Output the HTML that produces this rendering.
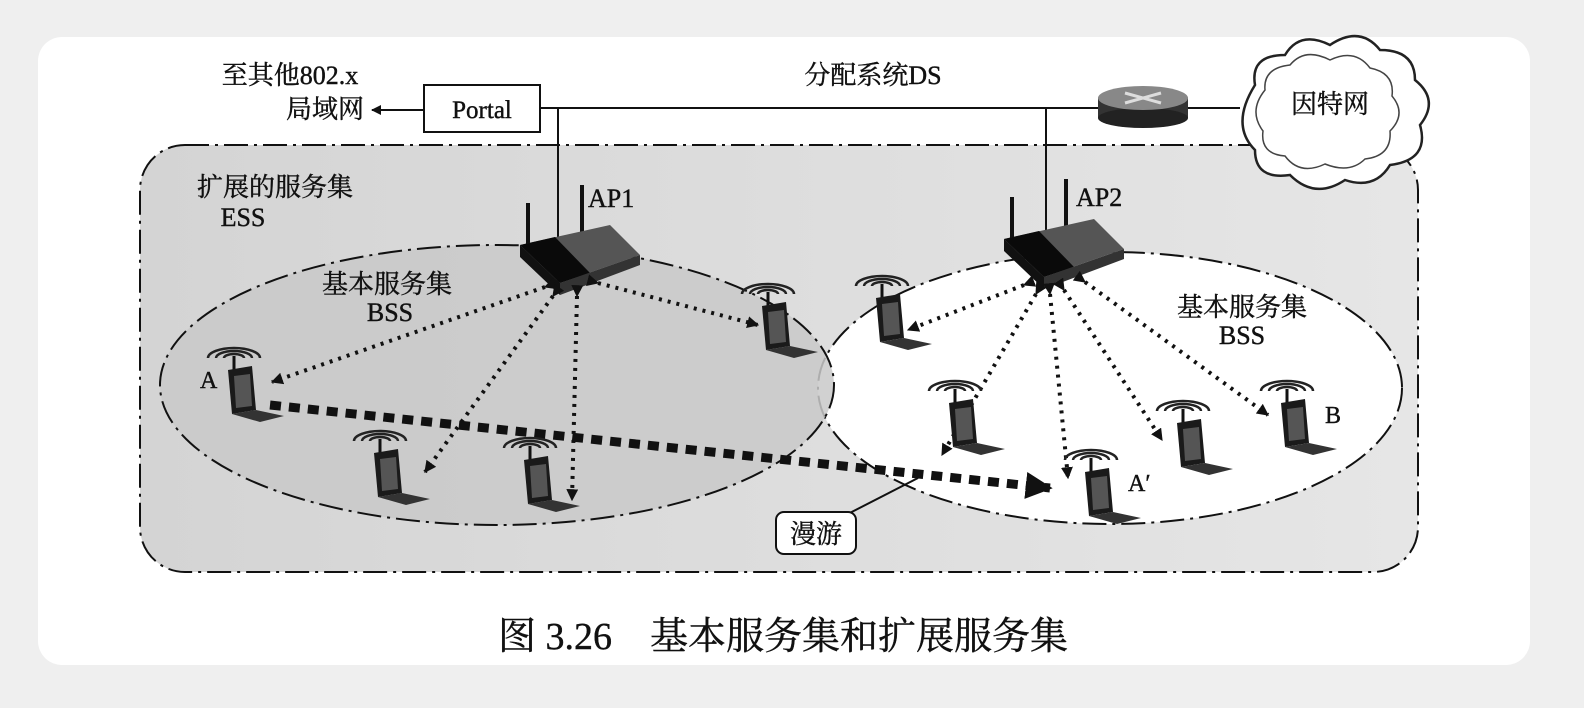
<!DOCTYPE html>
<html><head><meta charset="utf-8"><style>
html,body{margin:0;padding:0;background:#efefef;}
svg{display:block}
text{font-family:"Liberation Serif","Noto Serif CJK SC",serif;fill:#111;stroke:#111;stroke-width:0.4}
</style></head><body>
<svg width="1584" height="708" viewBox="0 0 1584 708" xmlns="http://www.w3.org/2000/svg">
<defs>
<linearGradient id="ess" x1="0" x2="1" y1="0" y2="0"><stop offset="0" stop-color="#d4d4d4"/><stop offset="1" stop-color="#e6e6e6"/></linearGradient>
<marker id="ah" viewBox="0 0 10 10" refX="9" refY="5" markerWidth="5" markerHeight="5" orient="auto-start-reverse"><path d="M0,0L10,5L0,10z" fill="#111"/></marker>
<marker id="ah2" viewBox="0 0 10 10" refX="9" refY="5" markerWidth="3" markerHeight="3" orient="auto"><path d="M0,0L10,5L0,10z" fill="#111"/></marker>
<g id="lap">
<path d="M-26,-14 a26,10 0 0 1 52,0" fill="none" stroke="#222" stroke-width="2.5"/>
<path d="M-18,-14 a18,7 0 0 1 36,0" fill="none" stroke="#222" stroke-width="2.5"/>
<path d="M-10,-14 a10,4 0 0 1 20,0" fill="none" stroke="#222" stroke-width="2.5"/>
<line x1="0" y1="-16" x2="0" y2="8" stroke="#111" stroke-width="3"/>
<path d="M-6,-2 L18,-6 L22,38 L-2,42 z" fill="#1a1a1a"/>
<path d="M0,4 L16,2 L18,34 L2,36 z" fill="#555"/>
<path d="M-2,42 L22,38 L50,44 L26,50 z" fill="#333"/>
</g>
<g id="ap">
<line x1="8" y1="-40" x2="8" y2="5" stroke="#111" stroke-width="4"/>
<line x1="62" y1="-58" x2="62" y2="-10" stroke="#111" stroke-width="4"/>
<path d="M0,2 L90,-18 L120,12 L40,40 z" fill="#555"/>
<path d="M0,2 L40,40 L40,52 L0,14 z" fill="#111"/>
<path d="M0,2 L35,-6 L70,30 L40,40 z" fill="#0a0a0a"/>
<path d="M40,40 L120,12 L120,22 L40,52 z" fill="#333"/>
</g>
</defs>
<rect x="38" y="37" width="1492" height="628" rx="24" fill="#fff"/>
<rect x="140" y="145" width="1278" height="427" rx="45" fill="url(#ess)" stroke="#111" stroke-width="2" stroke-dasharray="24,6,3,6"/>
<ellipse cx="1110" cy="388" rx="292" ry="136" fill="#fff" stroke="#111" stroke-width="2" stroke-dasharray="24,6,3,6"/>
<ellipse cx="497" cy="385" rx="337" ry="140" fill="#c9c9c9" fill-opacity="0.85" stroke="#111" stroke-width="2" stroke-dasharray="24,6,3,6"/>
<line x1="540" y1="108" x2="1240" y2="108" stroke="#111" stroke-width="2"/>
<line x1="558" y1="108" x2="558" y2="285" stroke="#111" stroke-width="2"/>
<line x1="1046" y1="108" x2="1046" y2="260" stroke="#111" stroke-width="2"/>
<rect x="424" y="85" width="116" height="47" fill="#fff" stroke="#111" stroke-width="2"/>
<text x="482" y="118" font-size="25" text-anchor="middle">Portal</text>
<line x1="424" y1="110" x2="372" y2="110" stroke="#111" stroke-width="2" marker-end="url(#ah)"/>
<text x="290" y="84" font-size="26" text-anchor="middle">至其他802.x</text>
<text x="325" y="118" font-size="26" text-anchor="middle">局域网</text>
<text x="873" y="84" font-size="26" text-anchor="middle">分配系统DS</text>
<rect x="1098" y="98" width="90" height="20" fill="#333"/>
<ellipse cx="1143" cy="118" rx="45" ry="10" fill="#222"/>
<ellipse cx="1143" cy="98" rx="45" ry="12" fill="#888"/>
<path d="M1125,93 L1161,103 M1125,103 L1161,93" stroke="#ddd" stroke-width="3"/>
<path d="M1255,85 q-5,-30 30,-30 q15,-25 45,-10 q30,-20 50,5 q35,0 35,30 q25,20 5,45 q10,35 -30,40 q-15,25 -45,15 q-30,20 -55,-5 q-35,5 -35,-25 q-25,-25 0,-65z" fill="#fff" stroke="#222" stroke-width="2.5"/>
<path d="M1265,90 q-2,-22 25,-25 q15,-18 40,-5 q25,-12 40,8 q25,5 22,28 q15,18 -2,35 q2,25 -25,28 q-15,15 -40,5 q-25,12 -40,-8 q-25,-2 -22,-25 q-15,-20 2,-41z" fill="none" stroke="#444" stroke-width="1.5"/>
<text x="1330" y="113" font-size="26" text-anchor="middle">因特网</text>
<text x="275" y="196" font-size="26" text-anchor="middle">扩展的服务集</text>
<text x="243" y="226" font-size="26" text-anchor="middle">ESS</text>
<text x="387" y="293" font-size="26" text-anchor="middle">基本服务集</text>
<text x="390" y="321" font-size="26" text-anchor="middle">BSS</text>
<text x="1242" y="316" font-size="26" text-anchor="middle">基本服务集</text>
<text x="1242" y="344" font-size="26" text-anchor="middle">BSS</text>
<text x="588" y="207" font-size="26">AP1</text>
<text x="1076" y="206" font-size="26">AP2</text>
<text x="200" y="388" font-size="24">A</text>
<text x="1128" y="491" font-size="24">A′</text>
<text x="1325" y="423" font-size="24">B</text>
<use href="#ap" x="520" y="243"/>
<use href="#ap" x="1004" y="237"/>
<g stroke="#111" stroke-width="4" stroke-dasharray="3,6" fill="none" marker-start="url(#ah2)" marker-end="url(#ah2)">
<line x1="545" y1="287" x2="272" y2="382"/>
<line x1="553" y1="296" x2="425" y2="472"/>
<line x1="577" y1="296" x2="572" y2="500"/>
<line x1="598" y1="283" x2="758" y2="325"/>
<line x1="1024" y1="285" x2="908" y2="330"/>
<line x1="1036" y1="294" x2="942" y2="455"/>
<line x1="1050" y1="294" x2="1068" y2="478"/>
<line x1="1064" y1="290" x2="1162" y2="440"/>
<line x1="1085" y1="282" x2="1268" y2="415"/>
</g>
<line x1="270" y1="405" x2="1050" y2="488" stroke="#111" stroke-width="9" stroke-dasharray="11,8" marker-end="url(#ah2)"/>
<use href="#lap" x="234" y="372"/>
<use href="#lap" x="380" y="455"/>
<use href="#lap" x="530" y="462"/>
<use href="#lap" x="768" y="308"/>
<use href="#lap" x="882" y="300"/>
<use href="#lap" x="955" y="405"/>
<use href="#lap" x="1183" y="425"/>
<use href="#lap" x="1091" y="474"/>
<use href="#lap" x="1287" y="405"/>
<line x1="918" y1="478" x2="840" y2="518" stroke="#111" stroke-width="2"/>
<rect x="776" y="512" width="80" height="42" rx="8" fill="#fff" stroke="#111" stroke-width="2"/>
<text x="816" y="543" font-size="26" text-anchor="middle">漫游</text>
<text x="783" y="649" font-size="38" text-anchor="middle">图 3.26　基本服务集和扩展服务集</text>
</svg>
</body></html>
